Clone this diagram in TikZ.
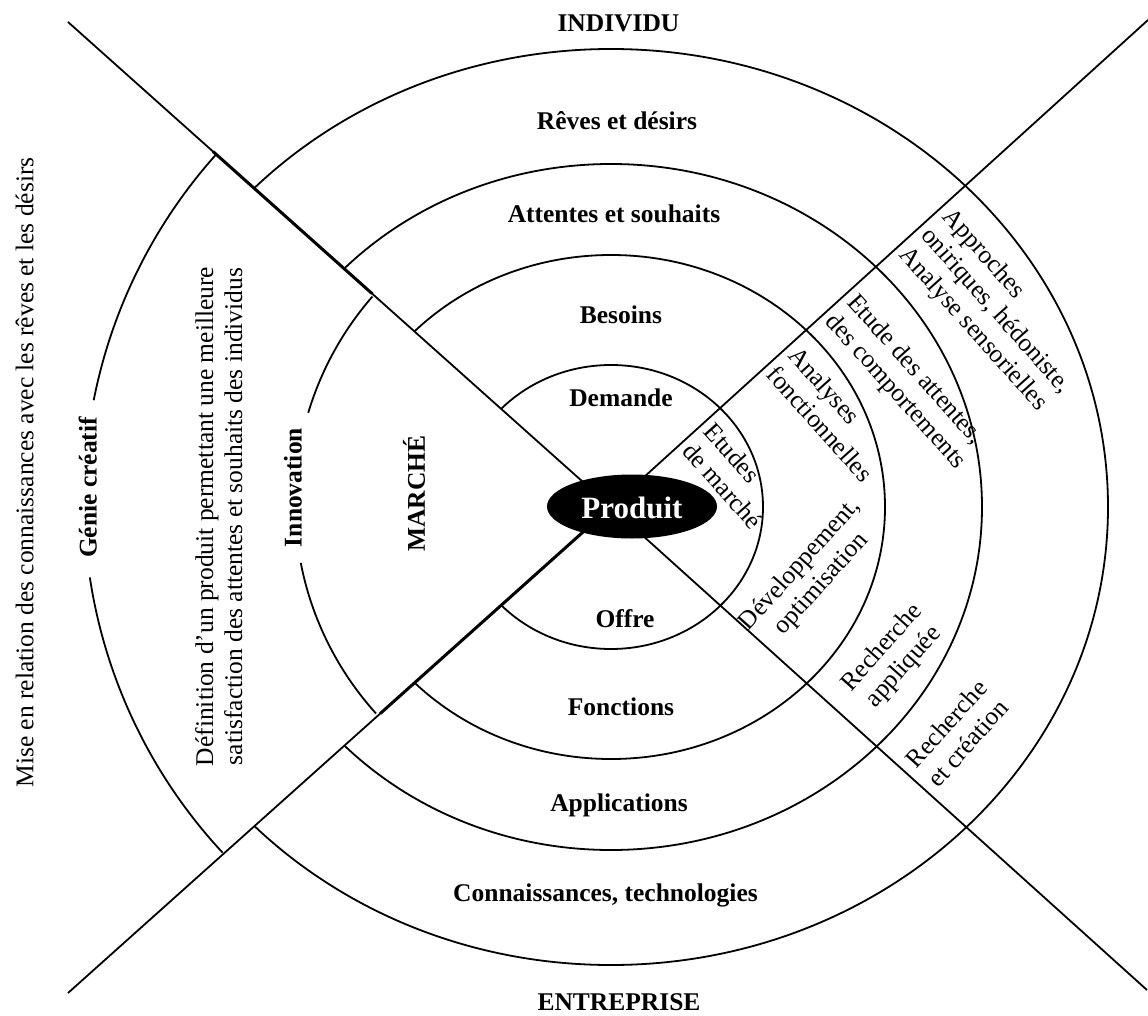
\documentclass[tikz,border=0pt]{standalone}
\usepackage{fontspec}
\setmainfont{Liberation Serif}
\usetikzlibrary{calc,shapes.geometric}
\begin{document}
\begin{tikzpicture}[x=1pt,y=1pt,
  ring/.style={line width=1.8pt},
  edge/.style={line width=1.8pt},
  heavy/.style={line width=3pt},
  lab/.style={font=\fontsize{25.5}{29}\selectfont\bfseries, inner sep=0pt},
  txt/.style={font=\fontsize{25.5}{29}\selectfont, inner sep=0pt},
  urtxt/.style={txt, rotate=-48.2, anchor=west, align=left},
  lrtxt/.style={txt, rotate=48.2, align=center},
  prod/.style={ellipse, fill=black, minimum width=170pt, minimum height=64pt,
    inner sep=0pt, text=white, font=\fontsize{31}{35}\selectfont\bfseries,
    text height=23.6pt, text depth=0pt}
]
\useasboundingbox (-611,-508) rectangle (537,507);

% centre and the four diagonal ends
\coordinate (o) at (0,0);
\coordinate (ul) at (-543,485);
\coordinate (ur) at (537,487);
\coordinate (ll) at (-543,-486);
\coordinate (lr) at (536,-483);

% concentric rings, left out of the left-hand sector
\begin{scope}
  \clip (o) -- ($(o)!2!(ul)$) -- (700,1000) -- (700,-1000) -- ($(o)!2!(ll)$) -- cycle;
  \draw[ring] (o) ellipse [x radius=152pt, y radius=142pt];
  \draw[ring] (o) ellipse [x radius=274pt, y radius=252pt];
  \draw[ring] (o) ellipse [x radius=371pt, y radius=343pt];
  \draw[ring] (o) ellipse [x radius=497pt, y radius=458pt];
\end{scope}

% diagonals
\draw[edge] (o) -- (ul);
\draw[edge] (o) -- (ur);
\draw[edge] (o) -- (ll);
\draw[edge] (o) -- (lr);
\draw[heavy] ($(o)!0.44!(ul)$) -- ($(o)!0.733!(ul)$);
\draw[heavy] (o) -- ($(o)!0.425!(ll)$);

% arcs of the left-hand sector, open around their labels
\coordinate (gc) at (-9,7);
\coordinate (ic) at (-2,4);
\draw[ring] ($(gc)+(138.3:518pt)$) arc [start angle=138.3, end angle=168.9, radius=518pt];
\draw[ring] ($(gc)+(188.6:518pt)$) arc [start angle=188.6, end angle=222.9, radius=518pt];
\draw[ring] ($(ic)+(138.9:314pt)$) arc [start angle=138.9, end angle=163.3, radius=314pt];
\draw[ring] ($(ic)+(191.0:314pt)$) arc [start angle=191.0, end angle=222.1, radius=314pt];

% product at the centre
\node[prod] (produit) at (21,0.5) {Produit};

% ring labels
\node[lab, anchor=base] (individu) at (7.5,475.3) {INDIVIDU};
\node[lab, anchor=base] (reves) at (6,377.7) {Rêves et désirs};
\node[lab, anchor=base] (attentes) at (3,284.3) {Attentes et souhaits};
\node[lab, anchor=base] (besoins) at (10,183) {Besoins};
\node[lab, anchor=base] (demande) at (10,101) {Demande};
\node[lab, anchor=base] (offre) at (14,-120.7) {Offre};
\node[lab, anchor=base] (fonctions) at (10,-208) {Fonctions};
\node[lab, anchor=base] (applications) at (8,-304) {Applications};
\node[lab, anchor=base] (connaissances) at (-5.5,-394.7) {Connaissances, technologies};
\node[lab, anchor=base] (entreprise) at (8,-503) {ENTREPRISE};

% left-hand sector, vertical texts
\node[txt, rotate=90, anchor=base] (mise) at (-577.7,34.5) {Mise en relation des connaissances avec les rêves et les désirs};
\node[lab, rotate=90, anchor=base] (genie) at (-514.3,19.5) {Génie créatif};
\node[txt, rotate=90, align=center] (definition) at (-392.2,-9.5) {Définition d’un produit permettant une meilleure\\satisfaction des attentes et souhaits des individus};
\node[lab, rotate=90, anchor=base] (innovation) at (-309.3,19.5) {Innovation};
\node[lab, rotate=90, anchor=base] (marche) at (-186,13.5) {MARCHÉ};

% upper-right sector
\node[urtxt] (approches) at (313.7,274.8) {Approches\\oniriques, hédoniste,\\Analyse sensorielles};
\node[urtxt] (etude) at (229,198.5) {Etude des attentes,\\des comportements};
\node[urtxt] (analyses) at (171.8,146.9) {Analyses\\fonctionnelles};
\node[urtxt] (etudes) at (87.2,70.5) {Etudes\\de marché};

% lower-right sector
\node[lrtxt] (dev) at (200,-67.7) {Développement,\\optimisation};
\node[lrtxt] (rappl) at (282.3,-150.5) {Recherche\\appliquée};
\node[lrtxt] (rcrea) at (346,-226.3) {Recherche\\et création};
\end{tikzpicture}
\end{document}
